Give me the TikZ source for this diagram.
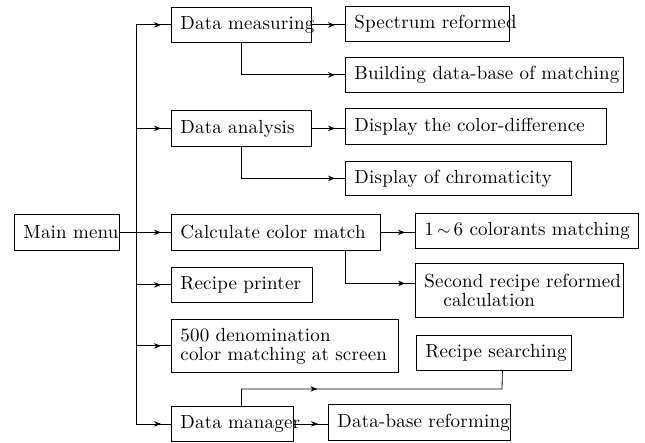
\documentclass[tikz,border=0pt]{standalone}
\usepackage{fontspec}
\newfontfamily\boxfont{lmroman10-regular.otf}[LetterSpace=1]
\usetikzlibrary{arrows.meta,decorations.markings}
\tikzset{
  bx/.style={draw, line width=0.8pt, anchor=north west, inner xsep=9pt, inner ysep=0pt,
    align=left, font=\boxfont\fontsize{19}{19}\selectfont},
  con/.style={line width=0.8pt},
  arw/.style={con, postaction={decorate}, decoration={markings,
    mark=at position #1 with {\arrow{Stealth[length=7pt,width=5.5pt]}}}},
  arw/.default=-10pt
}
\begin{document}
\begin{tikzpicture}[x=1pt,y=-1pt]
\useasboundingbox (0,0) rectangle (645,443);
% level 0
\node[bx, text width=87pt, minimum height=36pt] (main) at (14,214) {\mbox{Main menu}};
% level 1
\node[bx, text width=122pt, minimum height=35pt] (dm) at (171,7) {\mbox{Data measuring}};
\node[bx, text width=122pt, minimum height=36pt] (da) at (171,110) {\mbox{Data analysis}};
\node[bx, text width=191pt, minimum height=36pt] (cm) at (171,214) {\mbox{Calculate color match}};
\node[bx, text width=123pt, minimum height=35pt] (rp) at (171,267) {\mbox{Recipe printer}};
\node[bx, text width=209pt, minimum height=53pt] (den) at (171,319) {\mbox{500 denomination}\\\mbox{color matching at screen}};
\node[bx, text width=104pt, minimum height=35pt] (dmg) at (171,406) {\mbox{Data manager}};
% level 2
\node[bx, text width=146pt, minimum height=35pt] (sr) at (345,6) {\mbox{Spectrum reformed}};
\node[bx, text width=260pt, minimum height=35pt] (bd) at (345,57) {\mbox{Building data-base of matching}};
\node[bx, text width=243pt, minimum height=36pt] (dcd) at (345,108) {\mbox{Display the color-difference}};
\node[bx, text width=208pt, minimum height=34pt] (dch) at (345,161) {\mbox{Display of chromaticity}};
\node[bx, text width=205pt, minimum height=35pt] (c16) at (415,213) {\mbox{1\,{$\sim$}\,6 colorants matching}};
\node[bx, text width=190pt, minimum height=54pt] (sec) at (415,263) {\mbox{Second recipe reformed}\\\mbox{\hspace*{19pt}calculation}};
\node[bx, text width=137pt, minimum height=35pt] (rs) at (416,335) {\mbox{Recipe searching}};
\node[bx, text width=164pt, minimum height=36pt] (dbr) at (328,404) {\mbox{Data-base reforming}};
% trunk
\coordinate (tr) at (136,0);
\coordinate (j) at (502,389);
\draw[con] (tr |- dm.west) -- (tr |- dmg.west);
\draw[arw] (tr |- dm.west) -- (dm.west);
\draw[arw] (tr |- da.west) -- (da.west);
\draw[arw] (main.east) -- (cm.west);
\draw[arw] (tr |- rp.west) -- (rp.west);
\draw[arw] (tr |- den.west) -- (den.west);
\draw[arw] (tr |- dmg.west) -- (dmg.west);
% level 1 -> level 2
\draw[arw] (dm.east) -- (dm.east -| sr.west);
\draw[arw] (dm.south) |- (bd.west);
\draw[arw] (da.east) -- (da.east -| dcd.west);
\draw[arw] (da.south) |- (dch.west);
\draw[arw] (cm.east) -- (cm.east -| c16.west);
\draw[arw] ([xshift=69.5pt]cm.south) |- ([yshift=7pt]sec.west);
\draw[arw] (dmg.east) -- (dmg.east -| dbr.west);
\draw[arw=93pt] ([xshift=9pt]dmg.north) |- (j) -- ([xshift=8.5pt]rs.south);
\end{tikzpicture}
\end{document}
